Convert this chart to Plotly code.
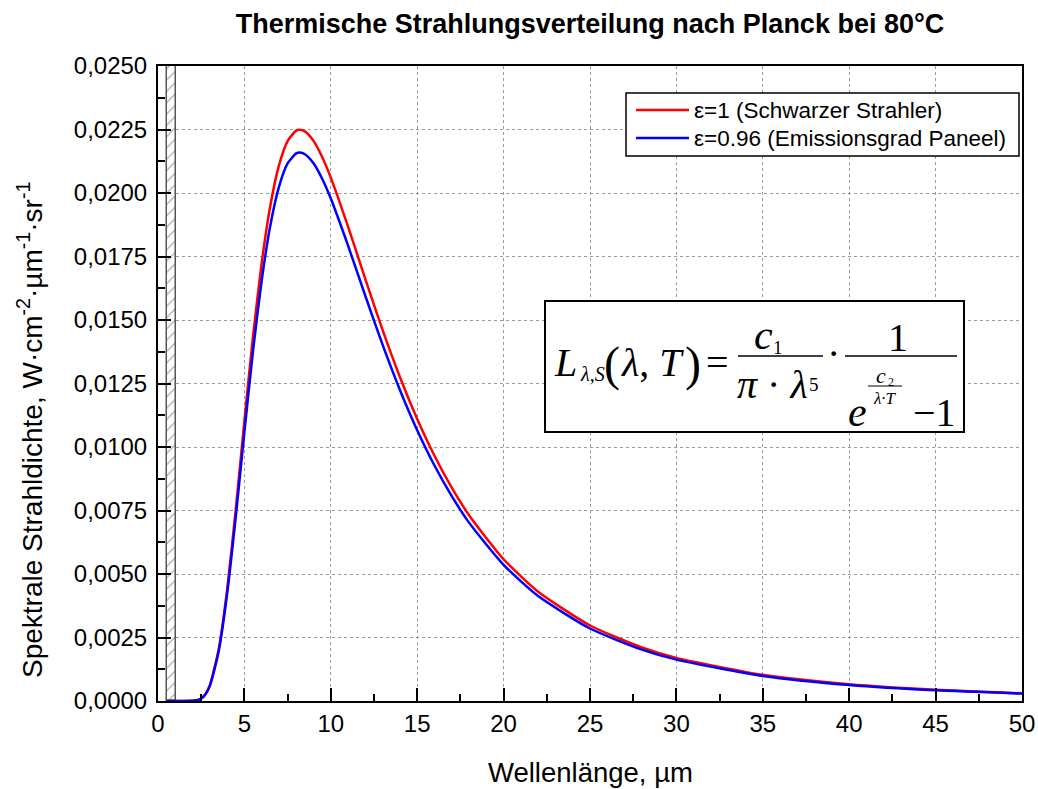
import plotly.graph_objects as go

# ---- data ----
wavelength = [0.5, 1.0, 1.5, 2.0, 2.25, 2.5, 2.75, 3.0, 3.5, 4.0, 4.5, 5.0, 5.5, 6.0, 6.5,
              7.0, 7.5, 8.0, 8.2, 8.5, 9.0, 9.5, 10, 11, 12, 13, 14, 15, 16, 17, 18, 20,
              22, 25, 28, 30, 35, 40, 45, 50]
black_body = [0, 0, 0, 0.0000053, 0.0000282, 0.000102, 0.000279, 0.000620, 0.001995, 0.004387,
              0.007549, 0.011025, 0.014365, 0.017245, 0.019500, 0.021085, 0.022044, 0.022458,
              0.022490, 0.022425, 0.022051, 0.021418, 0.020605, 0.018674, 0.016608, 0.014603,
              0.012757, 0.011106, 0.009658, 0.008400, 0.007316, 0.005582, 0.004302, 0.002973,
              0.002107, 0.001697, 0.001029, 0.000657, 0.000438, 0.000303]
panel = [0, 0, 0, 0.0000051, 0.0000271, 0.0000979, 0.000268, 0.000595, 0.001915, 0.004212,
         0.007247, 0.010584, 0.013790, 0.016555, 0.018720, 0.020242, 0.021162, 0.021560,
         0.021590, 0.021528, 0.021169, 0.020561, 0.019781, 0.017927, 0.015944, 0.014019,
         0.012247, 0.010662, 0.009272, 0.008064, 0.007023, 0.005359, 0.004130, 0.002854,
         0.002023, 0.001629, 0.000988, 0.000631, 0.000420, 0.000291]
series_names = ["ε=1 (Schwarzer Strahler)", "ε=0.96 (Emissionsgrad Paneel)"]
series_colors = ["#ff0000", "#0000ff"]
hatch_x = [0.78]
hatch_top = [0.025]

W, H = 1038, 789
L_, R_, T_, B_ = 158, 16, 66, 88
PW, PH = W - L_ - R_, H - T_ - B_

def P(px, py):
    return (px - L_) / PW, (H - B_ - py) / PH

SANS = "Liberation Sans, Arial, sans-serif"
SERIF = "Liberation Serif, Times New Roman, serif"

fig = go.Figure()
fig.add_trace(go.Bar(x=hatch_x, y=hatch_top, base=0, width=0.52, showlegend=False,
                     hoverinfo="skip",
                     marker=dict(color="white", line=dict(color="#555555", width=1.5),
                                 pattern=dict(shape="/", fgcolor="#555555", bgcolor="white",
                                              size=8, solidity=0.15))))
for name, ys, col in zip(series_names, [black_body, panel], series_colors):
    fig.add_trace(go.Scatter(x=wavelength, y=ys, mode="lines", name=name, showlegend=False,
                             line=dict(color=col, width=2.5, shape="spline", smoothing=0.6)))

axis_common = dict(showline=True, linecolor="black", linewidth=2, mirror=True,
                   ticks="inside", ticklen=13, tickwidth=2, tickcolor="black",
                   showgrid=True, gridcolor="#9a9a9a", griddash="dot", gridwidth=1,
                   zeroline=False, automargin=False,
                   tickfont=dict(family=SANS, size=24, color="black"))

fig.update_xaxes(range=[0, 50], dtick=5, tick0=0, tickformat="d",
                 minor=dict(dtick=2.5, ticks="inside", ticklen=7, tickwidth=2,
                            tickcolor="black", showgrid=False),
                 **axis_common)
fig.update_yaxes(range=[0, 0.025], dtick=0.0025, tick0=0, tickformat=".4f",
                 ticklabelstandoff=4,
                 minor=dict(dtick=0.00125, ticks="inside", ticklen=7, tickwidth=2,
                            tickcolor="black", showgrid=False),
                 **axis_common)

shapes = []

def rect(xa, ya, xb, yb, w=2):
    a, b = P(xa, ya)
    c, d = P(xb, yb)
    shapes.append(dict(type="rect", xref="paper", yref="paper", x0=a, y0=b, x1=c, y1=d,
                       line=dict(color="black", width=w), fillcolor="white", layer="above"))

def hline(xa, xb, y, w=1.5, color="black"):
    a, yy = P(xa, y)
    b, _ = P(xb, y)
    shapes.append(dict(type="line", xref="paper", yref="paper", x0=a, x1=b, y0=yy, y1=yy,
                       line=dict(color=color, width=w), layer="above"))

# legend (box, samples, labels)
rect(626, 93, 1019, 156, 1.5)
for i, (name, col) in enumerate(zip(series_names, series_colors)):
    yy = 110 + 28 * i
    hline(636, 689, yy, 2.5, col)
    ax, ay = P(692, yy)
    fig.add_annotation(x=ax, y=ay, xref="paper", yref="paper", text=name, showarrow=False,
                       xanchor="left", yanchor="middle",
                       font=dict(family=SANS, size=22.5, color="black"))

# formula box
rect(545, 301, 964, 432, 2)
hline(738, 823, 356)
hline(845, 957, 356)
hline(868, 902, 386, 1)

def txtc(text, cx, cy, size):
    xx, yy = P(cx, cy)
    fig.add_annotation(x=xx, y=yy, xref="paper", yref="paper", text=text, showarrow=False,
                       xanchor="center", yanchor="middle",
                       font=dict(family=SERIF, size=size, color="black"))

def txt(text, cx, base, size):
    txtc(text, cx, base - 0.32 * size, size)

txt("<i>L</i>", 565, 375, 40)
txt("<i>λ,S</i>", 592, 380, 20)
txtc("(", 612, 364, 48)
txt("<i>λ</i>, <i>T</i>", 652, 375, 40)
txtc(")", 693, 364, 48)
txt("=", 717, 375, 40)
txt("<i>c</i>", 763, 348, 42)
txt("1", 778, 354, 19)
txt("<i>π</i> · <i>λ</i>", 772, 397, 40)
txt("5", 814, 391, 19)
txt("·", 833, 366, 40)
txt("1", 898, 350, 40)
txt("<i>e</i>", 857, 425, 42)
txt("<i>c</i>", 881, 383, 22)
txt("2", 891, 386, 12)
txt("<i>λ·T</i>", 885, 404, 17)
txt("−1", 934, 425, 40)

# axis titles
ax, ay = P(590, 772)
fig.add_annotation(x=ax, y=ay, xref="paper", yref="paper", showarrow=False,
                   text="Wellenlänge, µm", xanchor="center", yanchor="middle",
                   font=dict(family=SANS, size=27.5, color="black"))
ax, ay = P(30, 430)
fig.add_annotation(x=ax, y=ay, xref="paper", yref="paper", showarrow=False, textangle=-90,
                   text="Spektrale Strahldichte, W·cm<sup>-2</sup>·µm<sup>-1</sup>·sr<sup>-1</sup>",
                   xanchor="center", yanchor="middle",
                   font=dict(family=SANS, size=28, color="black"))

fig.update_layout(
    width=W, height=H, margin=dict(l=L_, r=R_, t=T_, b=B_, autoexpand=False), autosize=False,
    paper_bgcolor="white", plot_bgcolor="white", separators=",.",
    shapes=shapes, bargap=0, showlegend=False,
    title=dict(text="<b>Thermische Strahlungsverteilung nach Planck bei 80°C</b>",
               x=0.5, xref="paper", xanchor="center", y=1 - 24 / H, yanchor="middle",
               font=dict(family=SANS, size=27, color="black")),
)

fig.write_html("out.html",
               config={"displayModeBar": False, "responsive": False},
               post_script="document.body.style.margin='0px';"
                           "document.body.style.overflow='hidden';")
